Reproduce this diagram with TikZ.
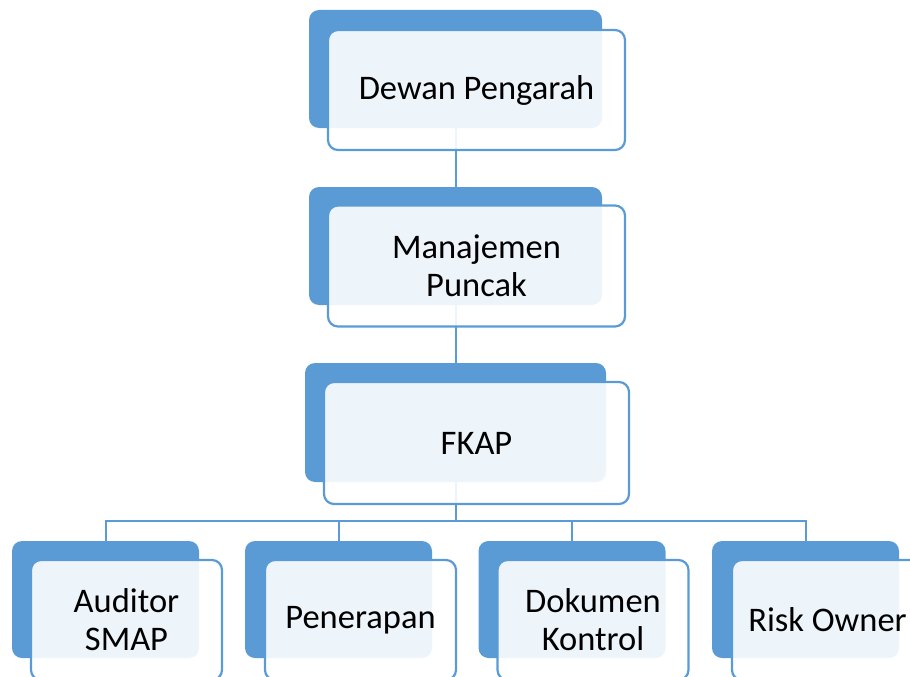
\documentclass[tikz,border=0pt]{standalone}
\usepackage{fontspec}
\setmainfont{Carlito}
\definecolor{accent}{HTML}{5B9BD5}
\tikzset{
  backbox/.style={rectangle, rounded corners=10pt, fill=accent, draw=none, inner sep=0pt},
  frontbox/.style={rectangle, rounded corners=10pt, fill=white, fill opacity=0.9, text opacity=1, draw=accent, draw opacity=1, line width=2.2pt, inner sep=0pt, align=center, font=\fontsize{34.5}{38}\selectfont},
  conn/.style={draw=accent, line width=2pt},
}
\begin{document}
\begin{tikzpicture}[x=1pt,y=-1pt]
\useasboundingbox (0,0) rectangle (910,677);
\clip (0,0) rectangle (910,677);
% back boxes
\node[backbox, minimum width=293pt, minimum height=118pt] (b1) at (455.5,69) {};
\node[backbox, minimum width=293pt, minimum height=118pt] (b2) at (455.5,246) {};
\node[backbox, minimum width=301pt, minimum height=119pt] (b3) at (455.5,422.5) {};
\node[backbox, minimum width=187pt, minimum height=117pt] (ba) at (105.5,599.5) {};
\node[backbox, minimum width=187pt, minimum height=117pt] (bb) at (338.5,599.5) {};
\node[backbox, minimum width=187pt, minimum height=117pt] (bc) at (572,599.5) {};
\node[backbox, minimum width=187pt, minimum height=117pt] (bd) at (805.5,599.5) {};
% connectors
\coordinate (bus) at (455.5,521);
\draw[conn] (b1.south) -- (b2.north);
\draw[conn] (b2.south) -- (b3.north);
\draw[conn] (b3.south) -- (bus);
\draw[conn] (ba.north) |- (bus);
\draw[conn] (bd.north) |- (bus);
\draw[conn] (bb.north) -- (bb.north |- bus);
\draw[conn] (bc.north) -- (bc.north |- bus);
% front boxes
\node[frontbox, minimum width=297pt, minimum height=120pt] (f1) at (476.5,90) {Dewan Pengarah};
\node[frontbox, minimum width=297pt, minimum height=121pt] (f2) at (476.5,266) {Manajemen\\Puncak};
\node[frontbox, minimum width=305pt, minimum height=122pt] (f3) at (476.5,443) {FKAP};
\node[frontbox, minimum width=191pt, minimum height=120pt] (fa) at (126.5,620) {Auditor\\SMAP};
\node[frontbox, minimum width=191pt, minimum height=120pt] (fb) at (360.5,620) {Penerapan};
\node[frontbox, minimum width=191pt, minimum height=120pt] (fc) at (593,620) {Dokumen\\Kontrol};
\node[frontbox, minimum width=191pt, minimum height=120pt] (fd) at (827.5,620) {Risk Owner};
\end{tikzpicture}
\end{document}
